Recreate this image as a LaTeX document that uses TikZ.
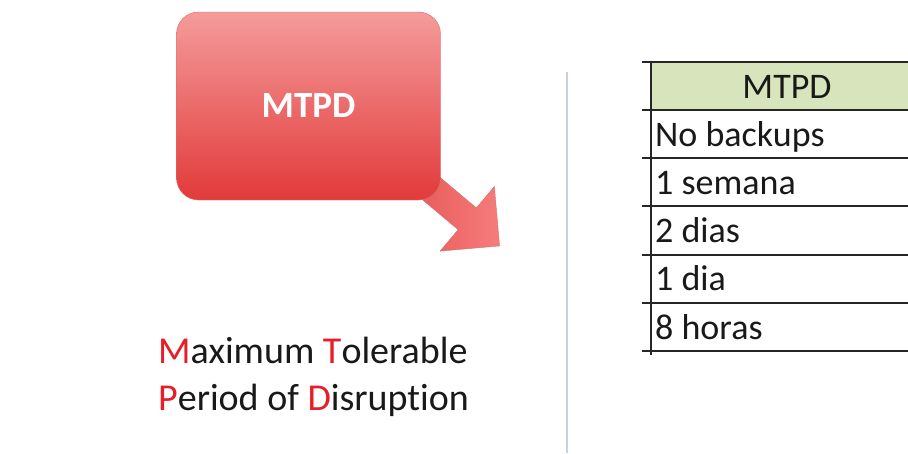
\documentclass[tikz,border=0pt]{standalone}
\usepackage{fontspec}
\setmainfont[Ligatures=NoCommon]{Carlito}
\usetikzlibrary{shapes.arrows}
\definecolor{boxtop}{RGB}{245,155,155}
\definecolor{boxbottom}{RGB}{226,58,58}
\definecolor{boxedge}{RGB}{214,110,110}
\definecolor{hdrgreen}{RGB}{216,228,188}
\definecolor{initial}{RGB}{230,30,40}
\definecolor{divider}{RGB}{200,210,226}
\tikzstyle{mtpdbox}=[rounded corners=22pt,minimum width=264pt,minimum height=188pt,
  top color=boxtop,bottom color=boxbottom,draw=boxedge,
  text=white,font=\fontsize{37}{44}\selectfont\bfseries]
\tikzstyle{bigarrow}=[single arrow,single arrow head extend=28pt,
  inner xsep=0pt,inner ysep=14pt,minimum height=110pt,
  left color=boxbottom!85!white,right color=boxtop!80!red,draw=boxedge]
\tikzstyle{caption}=[anchor=base west,inner sep=0pt,text=black!90,
  font=\fontsize{38}{46}\selectfont]
\tikzstyle{cell}=[inner sep=0pt,font=\fontsize{36}{44}\selectfont,text=black!90]
\tikzstyle{tableline}=[line width=1.6pt,black!85]
\begin{document}
\begin{tikzpicture}[x=1pt,y=-1pt]
  \useasboundingbox (0,0) rectangle (908,453);
  % box with the arrow leaving its corner
  \node[bigarrow,rotate=-40] (arrow) at (452,206) {};
  \node[mtpdbox] (box) at (308.5,106) {MTPD};
  \node[caption] (line1) at (158,363)
    {\textcolor{initial}{M}aximum \textcolor{initial}{T}olerable};
  \node[caption] (line2) at (158,410)
    {\textcolor{initial}{P}eriod of \textcolor{initial}{D}isruption};
  % divider
  \draw[divider,line width=1.5pt] (567,72) -- (567,453);
  % table
  \fill[hdrgreen] (651,62) rectangle (908,110);
  \foreach \y in {62,110,158,206,255,303,351}
    \draw[tableline] (642,\y) -- (908,\y);
  \draw[tableline] (651,62) -- (651,355);
  \node[cell,anchor=base] (head) at (787,98) {MTPD};
  \foreach \txt [count=\i] in {No backups,1 semana,2 dias,1 dia,8 horas}
    \node[cell,anchor=base west] (row\i) at (655,{98+48.2*\i}) {\txt};
\end{tikzpicture}
\end{document}
